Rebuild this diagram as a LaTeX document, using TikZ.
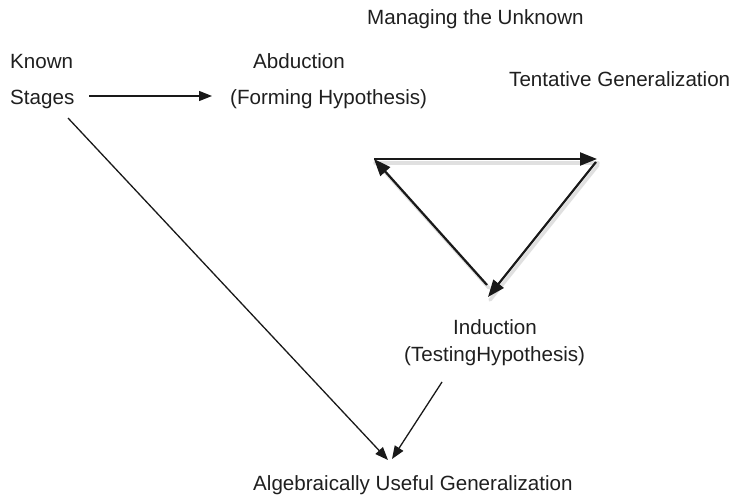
\documentclass[tikz,border=0pt]{standalone}
\usepackage{fontspec}
\setmainfont{Liberation Sans}
\usetikzlibrary{arrows.meta}

\begin{document}
\begin{tikzpicture}
            [
                x=1pt, y=-1pt,
                rotulo/.style={anchor=base west, inner sep=0pt, font=\fontsize{20.6}{24}\selectfont, text=black!88},
                seta/.style={draw=black!90, line width=1.3pt, -{Triangle[length=13pt,width=10pt]}},
                lado/.style={draw=black!90, line width=2.2pt, -{Triangle[length=17pt,width=13pt]}},
                sombra/.style={draw=black!12, line width=3.5pt, line cap=round},
            ]
            \useasboundingbox (0,0) rectangle (738,497);
            % textos
            \node[rotulo] (desconhecido) at (367,25) {Managing the Unknown};
            \node[rotulo] (conhecido) at (10,69) {Known};
            \node[rotulo] (estagios) at (10,105) {Stages};
            \node[rotulo] (abducao) at (253,69) {Abduction};
            \node[rotulo] (hipotese) at (230,105) {(Forming Hypothesis)};
            \node[rotulo] (tentativa) at (509,87) {Tentative Generalization};
            \node[rotulo] (inducao) at (453,334) {Induction};
            \node[rotulo] (teste) at (404,361) {(TestingHypothesis)};
            \node[rotulo] (algebrica) at (253,490) {Algebraically Useful Generalization};
            % vertices do triangulo
            \coordinate (t1) at (374,159);
            \coordinate (t2) at (597,159);
            \coordinate (t3) at (488,297);
            \coordinate (t3a) at (487,285);
            \coordinate (t2a) at (596,162);
            % sombra do triangulo
            \draw[sombra] ([shift={(1,4)}]t1) -- ([shift={(1,4)}]t2);
            \draw[sombra] ([shift={(2,3)}]t3a) -- ([shift={(2,3)}]t1);
            \draw[sombra] ([shift={(2,3)}]t2a) -- ([shift={(2,3)}]t3);
            % triangulo
            \draw[lado] (t1) -- (t2);
            \draw[lado] (t3a) -- (t1);
            \draw[lado] (t2a) -- (t3);
            % setas
            \coordinate (s1) at (89,96);
            \coordinate (s2) at (212,96);
            \draw[seta] (s1) -- (s2);
            \coordinate (e1) at (68,118);
            \coordinate (a1) at (388,460);
            \draw[seta] (e1) -- (a1);
            \coordinate (i1) at (442,382);
            \coordinate (a2) at (392,459);
            \draw[seta] (i1) -- (a2);
\end{tikzpicture}
\end{document}
